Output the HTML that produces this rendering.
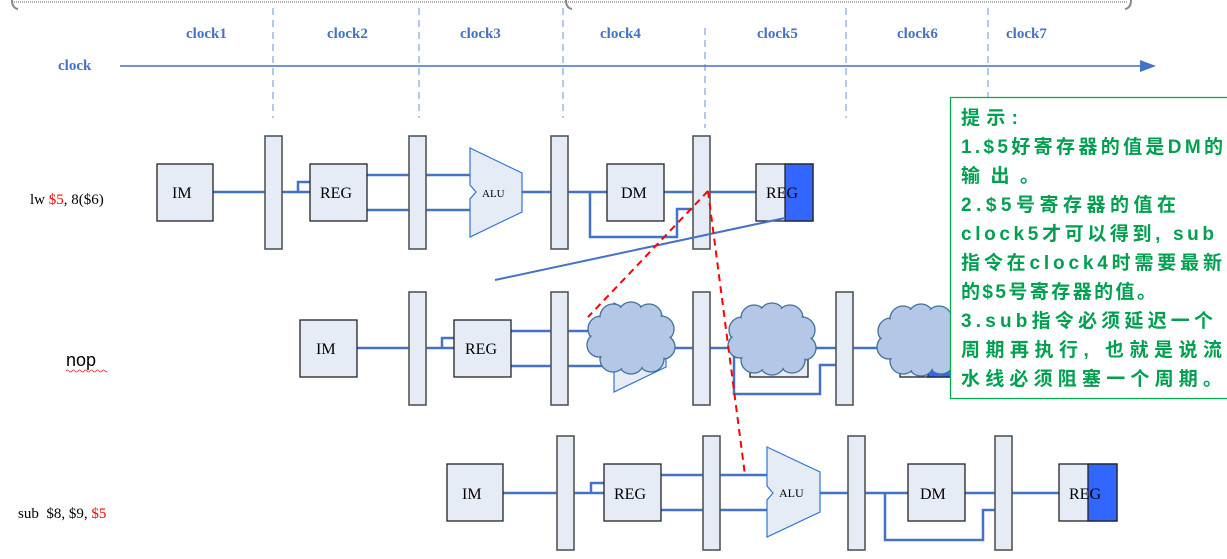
<!DOCTYPE html>
<html><head><meta charset="utf-8"><style>
html,body{margin:0;padding:0;background:#fff;width:1227px;height:559px;overflow:hidden}
svg{display:block}
.t{font-family:"Liberation Serif",serif;fill:#000}
.ck{font-family:"Liberation Serif",serif;font-weight:bold;fill:#4472c4;font-size:15px}
.note{font-family:"Liberation Sans","Noto Sans CJK SC",sans-serif;font-weight:bold;fill:#00a050;font-size:19px}
</style></head><body>
<svg width="1227" height="559" viewBox="0 0 1227 559" xmlns="http://www.w3.org/2000/svg">
<defs>
<g id="cloud">
  <g fill="#b4c7e7" stroke="#41719c" stroke-width="1.3">
    <circle cx="-30" cy="-10" r="13"/><circle cx="-18" cy="-22" r="13"/><circle cx="0" cy="-24" r="13"/><circle cx="18" cy="-22" r="13"/><circle cx="30" cy="-10" r="13"/>
    <circle cx="32" cy="8" r="12"/><circle cx="20" cy="20" r="13"/><circle cx="0" cy="22" r="13"/><circle cx="-18" cy="20" r="13"/><circle cx="-32" cy="6" r="12"/>
  </g>
  <g fill="#b4c7e7">
    <circle cx="-30" cy="-10" r="11.6"/><circle cx="-18" cy="-22" r="11.6"/><circle cx="0" cy="-24" r="11.6"/><circle cx="18" cy="-22" r="11.6"/><circle cx="30" cy="-10" r="11.6"/>
    <circle cx="32" cy="8" r="10.6"/><circle cx="20" cy="20" r="11.6"/><circle cx="0" cy="22" r="11.6"/><circle cx="-18" cy="20" r="11.6"/><circle cx="-32" cy="6" r="10.6"/>
    <ellipse cx="0" cy="0" rx="34" ry="24"/>
  </g>
</g>
</defs>

<line x1="14" y1="2" x2="1127" y2="2" stroke="#999" stroke-width="1.5" stroke-dasharray="1 1"/>
<path d="M12 0 Q12 8 18 9" fill="none" stroke="#888" stroke-width="2"/>
<path d="M566 0 Q566 8 572 9" fill="none" stroke="#888" stroke-width="2"/>
<path d="M1131 0 Q1131 8 1125 9" fill="none" stroke="#888" stroke-width="2"/>

<g stroke="#8eaadb" stroke-width="1.3" stroke-dasharray="7 5">
<line x1="273" y1="8" x2="273" y2="118"/>
<line x1="419" y1="8" x2="419" y2="118"/>
<line x1="563" y1="8" x2="563" y2="118"/>
<line x1="705" y1="28" x2="705" y2="128"/>
<line x1="846" y1="8" x2="846" y2="118"/>
<line x1="988" y1="8" x2="988" y2="100"/>
</g>
<text class="ck" x="186" y="38">clock1</text>
<text class="ck" x="327" y="38">clock2</text>
<text class="ck" x="460" y="38">clock3</text>
<text class="ck" x="600" y="38">clock4</text>
<text class="ck" x="757" y="38">clock5</text>
<text class="ck" x="897" y="38">clock6</text>
<text class="ck" x="1006" y="38">clock7</text>
<text class="ck" x="58" y="70">clock</text>
<line x1="120" y1="66" x2="1142" y2="66" stroke="#4472c4" stroke-width="1.5"/>
<polygon points="1140,60 1156,66 1140,72" fill="#4472c4"/>

<g stroke="#4472c4" stroke-width="2.5" fill="none">
<line x1="213" y1="192" x2="310" y2="192"/>
<path d="M298 192 V182 H310"/>
<line x1="367" y1="175" x2="470" y2="175"/>
<line x1="367" y1="210" x2="470" y2="210"/>
<line x1="522" y1="192" x2="607" y2="192"/>
<line x1="664" y1="192" x2="756" y2="192"/>
<path d="M590 192 V237 H677 V209 H700"/>
<line x1="357" y1="348" x2="454" y2="348"/>
<path d="M442 348 V338 H454"/>
<line x1="511" y1="331" x2="614" y2="331"/>
<line x1="511" y1="366" x2="614" y2="366"/>
<line x1="666" y1="348" x2="750" y2="348"/>
<line x1="808" y1="348" x2="900" y2="348"/>
<path d="M734 348 V394 H820 V365 H845"/>
<line x1="503" y1="493" x2="604" y2="493"/>
<path d="M591 493 V483 H604"/>
<line x1="661" y1="475" x2="767" y2="475"/>
<line x1="661" y1="510" x2="767" y2="510"/>
<line x1="820" y1="493" x2="908" y2="493"/>
<line x1="965" y1="493" x2="1059" y2="493"/>
<path d="M885 493 V540 H983 V510 H1003"/>
</g>

<g fill="#e6ecf6" stroke="#222" stroke-width="1.3">
<rect x="157" y="164" width="56" height="57"/>
<rect x="310" y="164" width="57" height="57"/>
<rect x="607" y="164" width="57" height="57"/>
<rect x="756" y="164" width="57" height="57"/>
<rect x="300" y="320" width="57" height="57"/>
<rect x="454" y="320" width="57" height="57"/>
<rect x="750" y="320" width="58" height="57"/>
<rect x="900" y="320" width="57" height="57"/>
<rect x="447" y="464" width="56" height="57"/>
<rect x="604" y="464" width="57" height="57"/>
<rect x="908" y="464" width="57" height="57"/>
<rect x="1059" y="464" width="58" height="57"/>
</g>
<g fill="#3366ff" stroke="#222" stroke-width="1.3">
<rect x="785" y="164" width="28" height="57"/>
<rect x="928" y="320" width="29" height="57"/>
<rect x="1088" y="464" width="29" height="57"/>
</g>
<g fill="#e6ecf6" stroke="#555" stroke-width="1.6">
<rect x="265" y="136" width="17" height="113"/>
<rect x="409" y="136" width="17" height="113"/>
<rect x="551" y="136" width="17" height="113"/>
<rect x="693" y="136" width="17" height="113"/>
<rect x="409" y="292" width="17" height="113"/>
<rect x="551" y="292" width="17" height="113"/>
<rect x="693" y="292" width="17" height="113"/>
<rect x="836" y="292" width="17" height="113"/>
<rect x="557" y="436" width="17" height="114"/>
<rect x="703" y="436" width="17" height="114"/>
<rect x="848" y="436" width="17" height="114"/>
<rect x="995" y="436" width="17" height="114"/>
</g>
<g fill="#e6ecf6" stroke="#2e75d6" stroke-width="1.2">
<polygon points="470,148 522,173 522,212 470,237 470,199 476,192 470,185"/>
<polygon points="614,303 666,328 666,367 614,392 614,354 620,348 614,342"/>
<polygon points="767,447 820,472 820,512 767,537 767,500 773,493 767,486"/>
</g>
<g class="t" font-size="16">
<text x="172" y="198">IM</text>
<text x="320" y="198">REG</text>
<text x="621" y="198">DM</text>
<text x="766" y="198">REG</text>
<text x="316" y="354">IM</text>
<text x="465" y="354">REG</text>
<text x="462" y="499">IM</text>
<text x="614" y="499">REG</text>
<text x="920" y="499">DM</text>
<text x="1069" y="499">REG</text>
<text x="482" y="197" font-size="11">ALU</text>
<text x="779" y="497" font-size="12">ALU</text>
</g>

<use href="#cloud" x="631" y="339"/>
<use href="#cloud" x="772" y="340"/>
<use href="#cloud" x="921" y="341"/>

<line x1="495" y1="280" x2="785" y2="218" stroke="#4472c4" stroke-width="2"/>
<g stroke="#ff0000" stroke-width="2" stroke-dasharray="7 5">
<line x1="708" y1="191" x2="588" y2="317"/>
<line x1="708" y1="191" x2="745" y2="475"/>
</g>

<text class="t" x="30" y="204" font-size="15">lw <tspan fill="#ff0000">$5</tspan>, 8($6)</text>
<text x="66" y="366" font-family="Liberation Sans,sans-serif" font-size="18" fill="#000">nop</text>
<path d="M66 371 q1.5 -2 3 0 t3 0 t3 0 t3 0 t3 0 t3 0 t3 0 t3 0 t3 0 t3 0 t3 0 t3 0 t3 0 t2 0" fill="none" stroke="#e03030" stroke-width="0.8"/>
<text class="t" x="18" y="518" font-size="15" xml:space="preserve">sub  $8, $9, <tspan fill="#ff0000">$5</tspan></text>

<rect x="950.5" y="97.5" width="280" height="301" fill="#fff" stroke="#00b050" stroke-width="1.3"/>
<g class="note">
<text x="961" y="124" textLength="57" lengthAdjust="spacing">提示:</text>
<text x="961" y="153" textLength="262" lengthAdjust="spacing">1.$5好寄存器的值是DM的</text>
<text x="961" y="182" textLength="78" lengthAdjust="spacing">输出。</text>
<text x="961" y="211" textLength="215" lengthAdjust="spacing">2.$5号寄存器的值在</text>
<text x="961" y="240" textLength="253" lengthAdjust="spacing">clock5才可以得到, sub</text>
<text x="961" y="269" textLength="261" lengthAdjust="spacing">指令在clock4时需要最新</text>
<text x="961" y="298" textLength="195" lengthAdjust="spacing">的$5号寄存器的值。</text>
<text x="961" y="327" textLength="252" lengthAdjust="spacing">3.sub指令必须延迟一个</text>
<text x="961" y="356" textLength="261" lengthAdjust="spacing">周期再执行, 也就是说流</text>
<text x="961" y="385" textLength="261" lengthAdjust="spacing">水线必须阻塞一个周期。</text>
</g>
</svg>
</body></html>
